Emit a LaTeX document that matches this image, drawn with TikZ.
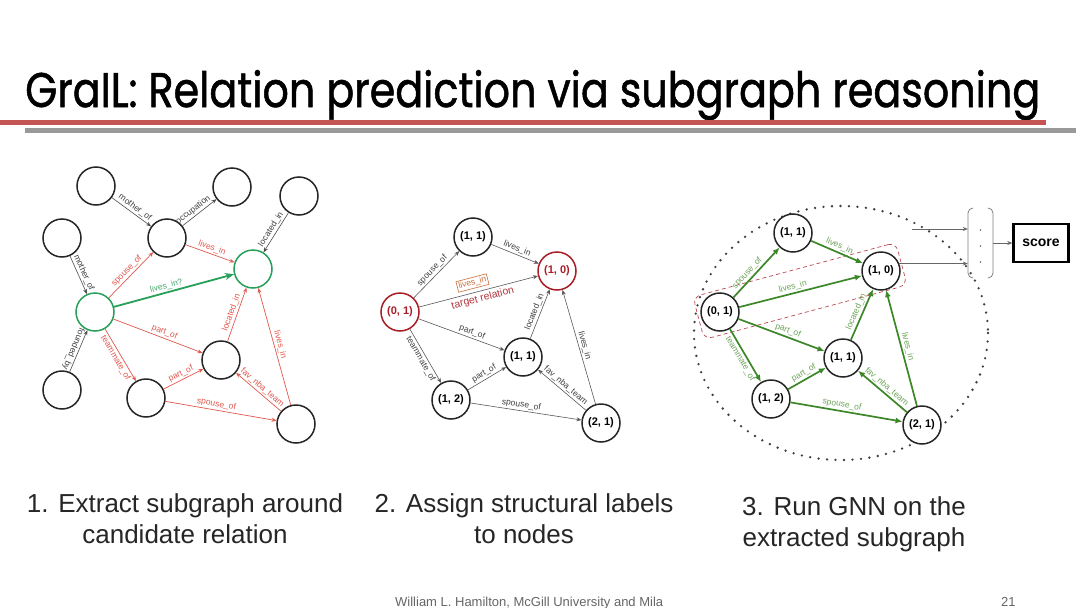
\documentclass[tikz,border=0pt]{standalone}
\usepackage{fontspec}
\setmainfont{Liberation Sans}
\newfontfamily\titlefont[FakeBold=1.2]{Poppins}
\usetikzlibrary{arrows.meta}
\definecolor{redA}{RGB}{226,88,78}
\definecolor{grnA}{RGB}{40,160,90}
\definecolor{grnAl}{RGB}{70,170,110}
\definecolor{darkred}{RGB}{170,30,40}
\definecolor{grnC}{RGB}{60,135,40}
\definecolor{grnCl}{RGB}{110,165,90}
\definecolor{rule}{RGB}{196,84,84}
\definecolor{orng}{RGB}{200,110,60}
\begin{document}
\begin{tikzpicture}[x=1pt,y=-1pt,
  circ/.style={circle, draw=black!85, line width=1.5pt, minimum size=38pt, inner sep=0pt, fill=white, font=\bfseries\fontsize{11}{12}\selectfont},
  gcirc/.style={circ, draw=grnA},
  rcirc/.style={circ, draw=darkred, text=darkred},
  lbl/.style={font=\fontsize{8.5}{10}\selectfont, inner sep=1.5pt, sloped},
  ek/.style={draw=black!70, line width=0.6pt, -{Stealth[length=5pt,width=4pt]}},
  er/.style={draw=redA, line width=0.7pt, -{Stealth[length=5pt,width=4pt]}},
  eg/.style={draw=grnA, line width=1.8pt, -{Stealth[length=9pt,width=7pt]}},
  ed/.style={draw=black!65, line width=0.6pt, -{Stealth[length=5pt,width=4pt]}},
  ec/.style={draw=grnC, line width=1.7pt, -{Latex[length=7pt,width=6pt]}},
  captxt/.style={font=\fontsize{26}{26}\selectfont, anchor=base, inner sep=0pt, text=black!85},
  varr/.style={draw=black!60, line width=0.6pt, -{Stealth[length=5pt,width=4pt]}}
]
\useasboundingbox[fill=white] (0,0) rectangle (1080,608);

% ---------- title ----------
\node[anchor=base west, inner sep=0pt] (title) at (25,107)
  {\resizebox{1015pt}{37pt}{\titlefont GraIL: Relation prediction via subgraph reasoning}};
\fill[rule] (0,120) rectangle (1046,125);
\fill[black!40] (25,128) rectangle (1076,133);

% ---------- panel 1 ----------
\node[circ] (A) at (96,186) {};
\node[circ] (B) at (167,238) {};
\node[circ] (C) at (232,187) {};
\node[circ] (D) at (299,196) {};
\node[circ] (E) at (62,238) {};
\node[gcirc] (G) at (95,312) {};
\node[gcirc] (T) at (253,269) {};
\node[circ] (H) at (62,390) {};
\node[circ] (I) at (146,398) {};
\node[circ] (J) at (221,360) {};
\node[circ] (K) at (296,424) {};

\draw[ek] (A) -- node[lbl, above, text=black!75] {mother\_of} (B);
\draw[ek] (B) -- node[lbl, above, pos=0.42, text=black!75] {occupation} (C);
\draw[ek] (D) -- node[lbl, above, text=black!75] {located\_in} (T);
\draw[ek] (E) -- node[lbl, above, text=black!75] {mother\_of} (G);
\draw[ek] (H) -- (G);
\path (G) -- node[lbl, allow upside down, below, text=black!75] {founded\_by} (H);
\draw[er] (G) -- node[lbl, above, text=redA] {spouse\_of} (B);
\draw[er] (B) -- node[lbl, above, text=redA] {lives\_in} (T);
\draw[eg] (G) -- node[lbl, above, pos=0.45, text=grnAl] {lives\_in?} (T);
\draw[er] (G) -- node[lbl, above, pos=0.55, text=redA] {part\_of} (J);
\draw[er] (G) -- node[lbl, below, text=redA] {teammate\_of} (I);
\draw[er] (I) -- node[lbl, above, text=redA] {part\_of} (J);
\draw[er] (I) -- node[lbl, above, pos=0.45, text=redA] {spouse\_of} (K);
\draw[er] (J) -- node[lbl, above, text=redA] {located\_in} (T);
\draw[er] (K) -- node[lbl, above, text=redA] {fav\_nba\_team} (J);
\draw[er] (K) -- node[lbl, above, text=redA] {lives\_in} (T);

% ---------- panel 2 ----------
\node[circ] (b11) at (473,237) {(1, 1)};
\node[rcirc] (b10) at (557,271) {(1, 0)};
\node[rcirc] (b01) at (400,312) {(0, 1)};
\node[circ] (b11x) at (523,357) {(1, 1)};
\node[circ] (b12) at (451,400) {(1, 2)};
\node[circ] (b21) at (601,423) {(2, 1)};

\draw[ed] (b01) -- node[lbl, above, text=black!75] {spouse\_of} (b11);
\draw[ed] (b11) -- node[lbl, above, text=black!75] {lives\_in} (b10);
\draw[ed] (b01) -- node[lbl, above=4pt, pos=0.47, draw=orng, line width=0.6pt, text=orng, inner sep=1.5pt] {lives\_in}
  node[lbl, below=1pt, pos=0.52, text=darkred!90, font=\fontsize{10.5}{12}\selectfont] {target relation} (b10);
\draw[ed] (b01) -- node[lbl, above, pos=0.6, text=black!75] {part\_of} (b11x);
\draw[ed] (b01) -- node[lbl, below, text=black!75] {teammate\_of} (b12);
\draw[ed] (b12) -- node[lbl, above, text=black!75] {part\_of} (b11x);
\draw[ed] (b12) -- node[lbl, above, pos=0.45, text=black!75] {spouse\_of} (b21);
\draw[ed] (b11x) -- node[lbl, above, text=black!75] {located\_in} (b10);
\draw[ed] (b21) -- node[lbl, above, text=black!75] {fav\_nba\_team} (b11x);
\draw[ed] (b21) -- node[lbl, above, text=black!75] {lives\_in} (b10);

% ---------- panel 3 ----------
\draw[black!75, line width=2.6pt, line cap=round, dash pattern=on 0pt off 8.5pt]
  (841,333) ellipse [x radius=147, y radius=127];
\node[draw=darkred!80, dash pattern=on 4pt off 3pt, line width=0.7pt, rounded corners=8pt,
  rotate=15, minimum width=210pt, minimum height=44pt] (sel) at (800,291) {};

\node[circ] (c11) at (793,233) {(1, 1)};
\node[circ] (c10) at (881,271) {(1, 0)};
\node[circ] (c01) at (720,312) {(0, 1)};
\node[circ] (c11x) at (843,358) {(1, 1)};
\node[circ] (c12) at (771,399) {(1, 2)};
\node[circ] (c21) at (922,425) {(2, 1)};

\draw[ec] (c01) -- node[lbl, above, pos=0.4, text=grnCl] {spouse\_of} (c11);
\draw[ec] (c11) -- node[lbl, above, text=grnCl] {lives\_in} (c10);
\draw[ec] (c01) -- node[lbl, above, pos=0.45, text=grnCl] {lives\_in} (c10);
\draw[ec] (c01) -- node[lbl, above, pos=0.55, text=grnCl] {part\_of} (c11x);
\draw[ec] (c01) -- node[lbl, below, text=grnCl] {teammate\_of} (c12);
\draw[ec] (c12) -- node[lbl, above, text=grnCl] {part\_of} (c11x);
\draw[ec] (c12) -- node[lbl, above, pos=0.45, text=grnCl] {spouse\_of} (c21);
\draw[ec] (c11x) -- node[lbl, above, text=grnCl] {located\_in} (c10);
\draw[ec] (c21) -- node[lbl, above, text=grnCl] {fav\_nba\_team} (c11x);
\draw[ec] (c21) -- node[lbl, above, text=grnCl] {lives\_in} (c10);

% vector and score
\node[minimum width=25pt, minimum height=70pt, inner sep=0pt] (vec) at (980.5,243) {};
\draw[black!50, line width=0.8pt] (973,208) to[out=180,in=90] (968,213) -- (968,273) to[out=-90,in=180] (973,278);
\draw[black!50, line width=0.8pt] (988,208) to[out=0,in=90] (993,213) -- (993,273) to[out=-90,in=0] (988,278);
\foreach \yy in {230,246,262} \fill[black!60] (980.5,\yy) circle (0.8pt);
\coordinate (vin) at (912,229);
\draw[varr] (vin) -- (vin -| vec.west);
\draw[varr] (c10.22) -- (c10.22 -| vec.west);
\node[draw=black, line width=2.4pt, minimum width=55pt, minimum height=38pt, inner sep=0pt,
  font=\bfseries\fontsize{14}{16}\selectfont] (score) at (1041,243) {score};
\draw[varr] (vec.east) -- (score.west);

% ---------- captions ----------
\node[captxt] (cap1a) at (185,512) {1. Extract subgraph around};
\node[captxt] (cap1b) at (185,543) {candidate relation};
\node[captxt] (cap2a) at (524,512) {2. Assign structural labels};
\node[captxt] (cap2b) at (524,543) {to nodes};
\node[captxt] (cap3a) at (854,515) {3. Run GNN on the};
\node[captxt] (cap3b) at (854,546) {extracted subgraph};

% ---------- footer ----------
\node[anchor=base west, inner sep=0pt, text=black!60, font=\fontsize{13}{14}\selectfont] (foot) at (395,606)
  {William L. Hamilton, McGill University and Mila};
\node[anchor=base west, inner sep=0pt, text=black!60, font=\fontsize{13}{14}\selectfont] (pnum) at (1001,606) {21};
\end{tikzpicture}
\end{document}
